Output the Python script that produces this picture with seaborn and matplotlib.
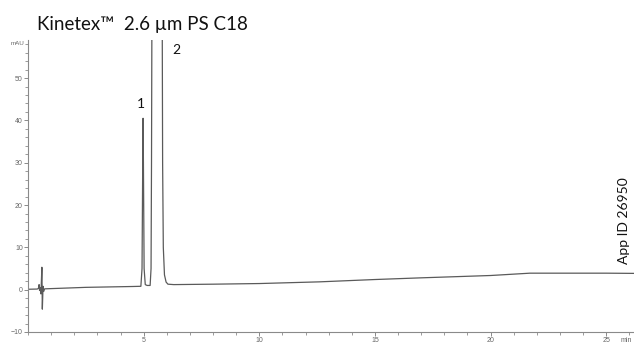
import matplotlib
matplotlib.use("Agg")
import matplotlib.pyplot as plt
from matplotlib.ticker import MultipleLocator
import seaborn as sns
import pandas as pd

# Chromatogram trace: retention time (min) and detector response (mAU)
time_min = [0.00, 0.40, 0.45, 0.48, 0.50, 0.53, 0.56, 0.60, 0.62, 0.65, 0.68, 0.72,
            1.5, 2.5, 3.5, 4.5, 4.88, 4.93, 4.96, 4.975, 4.99, 5.02, 5.07, 5.15,
            5.28, 5.32, 5.34, 5.36, 5.58, 5.80, 5.82, 5.85, 5.90, 5.97, 6.05, 6.3,
            8.0, 10.0, 12.6, 15.0, 17.0, 20.0, 21.7, 25.0, 26.2]
signal_mau = [0.1, 0.15, 0.3, 1.2, -0.2, 0.5, -1.0, 5.3, -4.6, 0.8, -0.4, 0.2,
              0.35, 0.55, 0.65, 0.75, 0.8, 5.0, 30.0, 40.5, 30.0, 5.0, 1.2, 1.0,
              1.0, 5.0, 30.0, 70.0, 400.0, 70.0, 30.0, 10.0, 3.5, 1.8, 1.3, 1.2,
              1.3, 1.45, 1.85, 2.4, 2.8, 3.35, 3.9, 3.9, 3.85]

peak_labels = ["1", "2"]
peak_label_x = [4.9, 6.42]
peak_label_y = [43.8, 56.6]

title_text = "Kinetex\u2122  2.6 \u00b5m PS C18"
app_id = "App ID 26950"

sns.set_style("ticks")
plt.rcParams["font.family"] = ["Lato", "DejaVu Sans"]

df = pd.DataFrame({"time": time_min, "signal": signal_mau})

fig = plt.figure(figsize=(6.34, 3.43), dpi=100)
ax = fig.add_axes([28 / 634, 11 / 343, 606 / 634, 292 / 343])

sns.lineplot(data=df, x="time", y="signal", ax=ax, color="#5a5a5a",
             linewidth=0.9, estimator=None, sort=False)

ax.set_xlim(0, 26.2)
ax.set_ylim(-10, 59)
ax.set_xlabel("")
ax.set_ylabel("")

axis_gray = "#8a8a8a"
tick_font = ["Liberation Sans", "DejaVu Sans"]
for side in ("top", "right"):
    ax.spines[side].set_visible(False)
for side in ("left", "bottom"):
    ax.spines[side].set_color(axis_gray)
    ax.spines[side].set_linewidth(0.8)

ax.xaxis.set_major_locator(MultipleLocator(5))
ax.xaxis.set_minor_locator(MultipleLocator(1))
ax.yaxis.set_major_locator(MultipleLocator(10))
ax.yaxis.set_minor_locator(MultipleLocator(2))
ax.set_xticks([5, 10, 15, 20, 25])

ax.tick_params(axis="both", which="major", labelsize=5, colors=axis_gray,
               labelcolor="#666666", width=0.7, length=3, pad=0.8)
ax.tick_params(axis="both", which="minor", colors=axis_gray, width=0.6, length=2)
for lbl in ax.get_xticklabels() + ax.get_yticklabels():
    lbl.set_family(tick_font)

ax.text(-0.006, 58.2, "mAU", transform=ax.get_yaxis_transform(),
        ha="right", va="center", fontsize=4.5, color="#666666", family=tick_font)
ax.text(25.6, -11.1, "min", ha="left", va="top", fontsize=5, color="#666666",
        clip_on=False, family=tick_font)

for lab, lx, ly in zip(peak_labels, peak_label_x, peak_label_y):
    ax.text(lx, ly, lab, ha="center", va="center", fontsize=10, color="#111111")

ax.text(25.75, 16.4, app_id, rotation=90, ha="center", va="center",
        fontsize=10, color="#111111")

fig.text(37 / 634, 1 - 30 / 343, title_text, ha="left", va="baseline",
         fontsize=13.5, color="#111111")

fig.savefig("out.png", dpi=100)
